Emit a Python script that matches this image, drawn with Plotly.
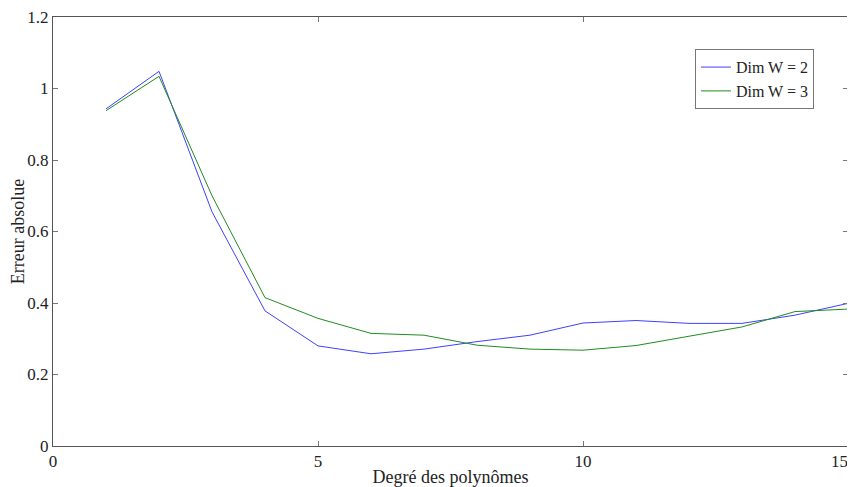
import plotly.graph_objects as go

degres = list(range(1, 16))
dim_w2 = [0.943, 1.048, 0.655, 0.378, 0.280, 0.258, 0.271, 0.292, 0.310, 0.344, 0.351, 0.343, 0.343, 0.366, 0.399]
dim_w3 = [0.938, 1.034, 0.700, 0.415, 0.357, 0.315, 0.310, 0.282, 0.271, 0.268, 0.281, 0.307, 0.333, 0.376, 0.383]

x_ticks = [0, 5, 10, 15]
# the last label is padded so it stays inside the window, as in the reference
x_tick_text = ["0", "5", "10", "15\u00a0\u00a0\u00a0\u00a0"]
y_ticks = [0, 0.2, 0.4, 0.6, 0.8, 1.0, 1.2]
y_tick_text = ["0", "0.2", "0.4", "0.6", "0.8", "1", "1.2"]

FONT = "Liberation Serif, Times New Roman, serif"

fig = go.Figure()
fig.add_trace(go.Scatter(x=degres, y=dim_w2, mode="lines", name="Dim W = 2",
                         line=dict(color="#4040ff", width=1)))
fig.add_trace(go.Scatter(x=degres, y=dim_w3, mode="lines", name="Dim W = 3",
                         line=dict(color="#1f8c1f", width=1)))

axis_common = dict(
    showgrid=False, zeroline=False, showline=True, linecolor="#555555", linewidth=1,
    mirror="ticks", ticks="inside", ticklen=5, tickcolor="#777777", tickwidth=1,
    tickfont=dict(family=FONT, size=17, color="#222222"),
    automargin=False, ticklabeloverflow="allow",
)

# the page body adds an 8px offset, so the figure is sized to fit the 855x487 window
fig.update_layout(
    width=847, height=479,
    margin=dict(l=45, r=7, t=9, b=41),
    paper_bgcolor="white", plot_bgcolor="white",
    font=dict(family=FONT, size=16, color="#222222"),
    xaxis=dict(range=[0, 15], tickvals=x_ticks, ticktext=x_tick_text,
               title=dict(text="Degré des polynômes", font=dict(family=FONT, size=18), standoff=0),
               **axis_common),
    yaxis=dict(range=[0, 1.2], tickvals=y_ticks, ticktext=y_tick_text,
               title=dict(text="Erreur absolue", font=dict(family=FONT, size=18), standoff=0),
               **axis_common),
    legend=dict(x=0.8075, y=0.925, xanchor="left", yanchor="top",
                bgcolor="white", bordercolor="#777777", borderwidth=1,
                font=dict(family=FONT, size=16, color="#222222"),
                tracegroupgap=0, itemwidth=30),
    showlegend=True,
)

fig.write_html("out.html")
